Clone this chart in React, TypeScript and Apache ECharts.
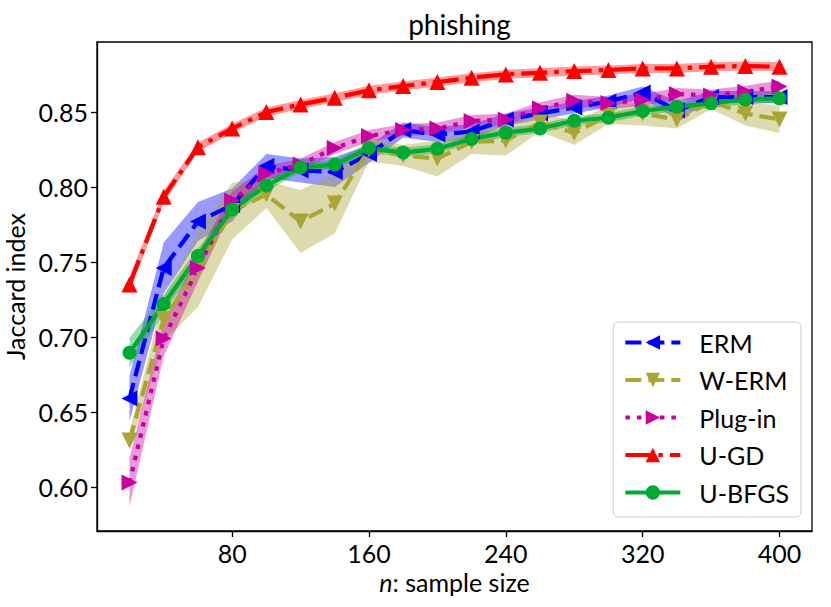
import React, { useEffect, useRef } from "react";
import * as echarts from "echarts";

const xs = [20, 40, 60, 80, 100, 120, 140, 160, 180, 200, 220, 240, 260, 280, 300, 320, 340, 360, 380, 400];
const xTicks = [80, 160, 240, 320, 400];
const yTicks = [0.6, 0.65, 0.7, 0.75, 0.8, 0.85];

const ermMean = [0.659, 0.746, 0.777, 0.788, 0.814, 0.811, 0.81, 0.822, 0.838, 0.835, 0.837, 0.845, 0.849, 0.853, 0.857, 0.863, 0.851, 0.86, 0.86, 0.86];
const ermStd = [0.015, 0.017, 0.013, 0.011, 0.008, 0.008, 0.01, 0.006, 0.005, 0.005, 0.005, 0.004, 0.004, 0.004, 0.004, 0.004, 0.006, 0.004, 0.004, 0.004];

const werMean = [0.631, 0.712, 0.745, 0.784, 0.795, 0.777, 0.789, 0.825, 0.821, 0.819, 0.83, 0.831, 0.843, 0.836, 0.848, 0.849, 0.845, 0.857, 0.849, 0.845];
const werStd = [0.006, 0.015, 0.025, 0.019, 0.009, 0.021, 0.02, 0.008, 0.007, 0.012, 0.008, 0.01, 0.006, 0.008, 0.006, 0.008, 0.006, 0.005, 0.008, 0.009];

const plugMean = [0.603, 0.699, 0.746, 0.791, 0.809, 0.815, 0.826, 0.834, 0.838, 0.839, 0.844, 0.845, 0.8525, 0.8575, 0.856, 0.858, 0.862, 0.861, 0.8636, 0.867];
const plugStd = [0.016, 0.012, 0.009, 0.006, 0.005, 0.004, 0.004, 0.004, 0.004, 0.004, 0.004, 0.004, 0.004, 0.004, 0.004, 0.004, 0.004, 0.004, 0.004, 0.004];

const ugdMean = [0.735, 0.7935, 0.8265, 0.839, 0.85, 0.855, 0.8595, 0.8645, 0.8673, 0.87, 0.8729, 0.8751, 0.8762, 0.8773, 0.878, 0.8791, 0.8791, 0.8802, 0.8807, 0.8802];
const ugdStd = [0.005, 0.004, 0.003, 0.003, 0.003, 0.003, 0.003, 0.003, 0.003, 0.003, 0.003, 0.003, 0.003, 0.003, 0.003, 0.003, 0.003, 0.003, 0.003, 0.003];

const bfgsMean = [0.6895, 0.722, 0.754, 0.785, 0.801, 0.813, 0.815, 0.826, 0.823, 0.8255, 0.832, 0.8363, 0.839, 0.8442, 0.8462, 0.8507, 0.8536, 0.8558, 0.8584, 0.8591];
const bfgsStd = [0.01, 0.006, 0.005, 0.004, 0.004, 0.003, 0.003, 0.003, 0.003, 0.003, 0.003, 0.003, 0.003, 0.003, 0.003, 0.003, 0.003, 0.003, 0.003, 0.003];

const FONT = "Lato";

type Spec = {
  name: string;
  mean: number[];
  std: number[];
  color: string;
  band: string;
  dash: any;
  symbol: string;
  rotate: number;
  size: number;
};

const specs: Spec[] = [
  { name: "ERM", mean: ermMean, std: ermStd, color: "#0000ff", band: "rgba(0,0,255,0.4)", dash: [16, 7], symbol: "triangle", rotate: 90, size: 16 },
  { name: "W-ERM", mean: werMean, std: werStd, color: "#aaa634", band: "rgba(170,166,52,0.4)", dash: [16, 7], symbol: "triangle", rotate: 180, size: 16 },
  { name: "Plug-in", mean: plugMean, std: plugStd, color: "#c8009f", band: "rgba(200,0,159,0.4)", dash: [4.5, 7], symbol: "triangle", rotate: -90, size: 16 },
  { name: "U-GD", mean: ugdMean, std: ugdStd, color: "#ff0000", band: "rgba(255,0,0,0.4)", dash: [26, 7, 4.5, 7], symbol: "triangle", rotate: 0, size: 16 },
  { name: "U-BFGS", mean: bfgsMean, std: bfgsStd, color: "#00aa33", band: "rgba(0,170,51,0.4)", dash: "solid", symbol: "circle", rotate: 0, size: 14 },
];

export default function App() {
  const ref = useRef<HTMLDivElement>(null);
  useEffect(() => {
    const chart = echarts.init(ref.current as HTMLDivElement, null, { renderer: "svg" });

    const bandSeries = specs.map((s) => {
      const lo = s.mean.map((m, i) => m - s.std[i]);
      const hi = s.mean.map((m, i) => m + s.std[i]);
      return {
        type: "custom",
        name: s.name + " band",
        silent: true,
        z: 1,
        data: xs.map((x, i) => [x, lo[i], hi[i]]),
        encode: { x: 0, y: [1, 2] },
        renderItem: (params: any, api: any) => {
          if (params.dataIndex !== 0) return null;
          const pts: number[][] = [];
          for (let i = 0; i < xs.length; i++) pts.push(api.coord([xs[i], hi[i]]));
          for (let i = xs.length - 1; i >= 0; i--) pts.push(api.coord([xs[i], lo[i]]));
          return { type: "polygon", shape: { points: pts }, style: { fill: s.band, stroke: "none" } };
        },
      };
    });

    const lineSeries = specs.map((s) => ({
      type: "line",
      name: s.name,
      z: 3,
      data: xs.map((x, i) => [x, s.mean[i]]),
      symbol: s.symbol,
      symbolSize: s.size,
      symbolRotate: s.rotate,
      showAllSymbol: true,
      lineStyle: { color: s.color, width: 4.2, type: s.dash, cap: "butt" },
      itemStyle: { color: s.color, borderWidth: 0, opacity: 1 },
      emphasis: { disabled: true },
    }));

    chart.setOption({
      animation: false,
      backgroundColor: "#ffffff",
      title: {
        text: "phishing",
        left: 454.5,
        top: 5,
        textAlign: "center",
        textStyle: { fontFamily: FONT, fontSize: 28, fontWeight: "normal", color: "#000" },
      },
      grid: {
        left: 97,
        right: 19,
        top: 42,
        bottom: 76,
        outerBoundsMode: "none",
        containLabel: false,
        show: true,
        borderColor: "#000",
        borderWidth: 1.3,
        backgroundColor: "transparent",
      },
      legend: {
        data: specs.map((s) => s.name),
        orient: "vertical",
        right: 30,
        bottom: 90,
        itemWidth: 55,
        itemHeight: 18,
        itemGap: 12.5,
        padding: [8, 12, 12, 10],
        borderColor: "#cccccc",
        borderWidth: 1,
        borderRadius: 5,
        backgroundColor: "rgba(255,255,255,0.8)",
        lineStyle: { width: 4.2 },
        textStyle: { fontFamily: FONT, fontSize: 25, color: "#000", lineHeight: 25, padding: [0, 0, 0, 14] },
      },
      xAxis: {
        type: "value",
        min: 1,
        max: 419,
        axisLine: { show: true, onZero: false, lineStyle: { color: "#000", width: 1.3 } },
        axisTick: { show: true, length: 6, customValues: xTicks, lineStyle: { color: "#000", width: 1.3 } },
        axisLabel: { customValues: xTicks, fontFamily: FONT, fontSize: 25, color: "#000", margin: 9 },
        splitLine: { show: false },
        name: "{i|n}: sample size",
        nameLocation: "middle",
        nameGap: 38,
        nameTextStyle: {
          fontFamily: FONT,
          fontSize: 25,
          color: "#000",
          rich: { i: { fontFamily: FONT, fontSize: 25, fontStyle: "italic", color: "#000" } },
        },
      },
      yAxis: {
        type: "value",
        min: 0.5707,
        max: 0.8967,
        axisLine: { show: true, onZero: false, lineStyle: { color: "#000", width: 1.3 } },
        axisTick: { show: true, length: 6, customValues: yTicks, lineStyle: { color: "#000", width: 1.3 } },
        axisLabel: {
          customValues: yTicks,
          fontFamily: FONT,
          fontSize: 25,
          color: "#000",
          margin: 9,
          formatter: (v: number) => v.toFixed(2),
        },
        splitLine: { show: false },
        name: "Jaccard index",
        nameLocation: "middle",
        nameGap: 60,
        nameTextStyle: { fontFamily: FONT, fontSize: 25, color: "#000" },
      },
      series: [...bandSeries, ...lineSeries],
    });
    return () => chart.dispose();
  }, []);
  return (
    <div
      ref={ref}
      style={{ position: "absolute", left: 0, top: 0, width: 831, height: 607, background: "#fff" }}
    />
  );
}
